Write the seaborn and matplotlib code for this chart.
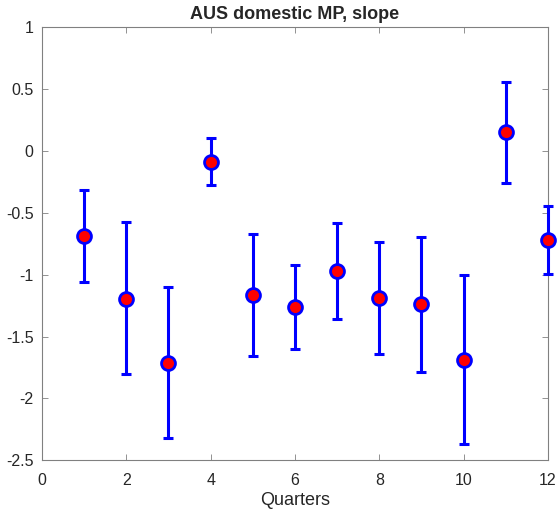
import matplotlib
matplotlib.use("Agg")
import matplotlib.pyplot as plt
import seaborn as sns
import numpy as np
import pandas as pd

quarters = [1, 2, 3, 4, 5, 6, 7, 8, 9, 10, 11, 12]
slope = [-0.687, -1.195, -1.71, -0.09, -1.163, -1.26, -0.97, -1.19, -1.24, -1.69, 0.153, -0.72]
upper = [-0.316, -0.574, -1.10, 0.104, -0.67, -0.92, -0.58, -0.735, -0.695, -1.0, 0.556, -0.445]
lower = [-1.058, -1.80, -2.32, -0.275, -1.655, -1.60, -1.357, -1.64, -1.785, -2.37, -0.26, -0.995]

df = pd.DataFrame({"Quarters": quarters, "slope": slope, "upper": upper, "lower": lower})

sns.set_theme(style="white")
plt.rcParams["font.family"] = ["Liberation Sans", "DejaVu Sans"]

fig = plt.figure(figsize=(5.59, 5.11), dpi=100)
ax = fig.add_axes([0.0751, 0.0992, 0.9052, 0.8478])

yerr = np.vstack([df["slope"] - df["lower"], df["upper"] - df["slope"]])
eb = ax.errorbar(df["Quarters"], df["slope"], yerr=yerr, fmt="none",
                 ecolor="#0000ff", elinewidth=2.2, capsize=3.5, capthick=2.2, zorder=3)
for artist in eb.lines[1] + eb.lines[2]:
    artist.set_clip_on(False)
sns.scatterplot(data=df, x="Quarters", y="slope", ax=ax, s=100,
                color="#ff0000", edgecolor="#0000ff", linewidth=2, zorder=4,
                clip_on=False)

ax.set_xlim(0, 12)
ax.set_ylim(-2.5, 1)
ax.set_xticks(np.arange(0, 13, 2))
ax.set_yticks(np.arange(-2.5, 1.01, 0.5))
ax.set_yticklabels(["-2.5", "-2", "-1.5", "-1", "-0.5", "0", "0.5", "1"])
ax.set_xlabel("Quarters", fontsize=13, color="#262626", labelpad=3)
ax.set_ylabel("")
ax.set_title("AUS domestic MP, slope", fontsize=13, fontweight="bold", pad=6)

for sp in ax.spines.values():
    sp.set_color("#808080")
    sp.set_linewidth(0.8)
ax.tick_params(direction="in", length=4, width=0.6, color="#808080",
               labelsize=11.5, labelcolor="#262626", top=True, right=True,
               bottom=True, left=True)
ax.tick_params(axis="x", pad=9)
ax.tick_params(axis="y", pad=6)

fig.savefig("out.png", dpi=100)
